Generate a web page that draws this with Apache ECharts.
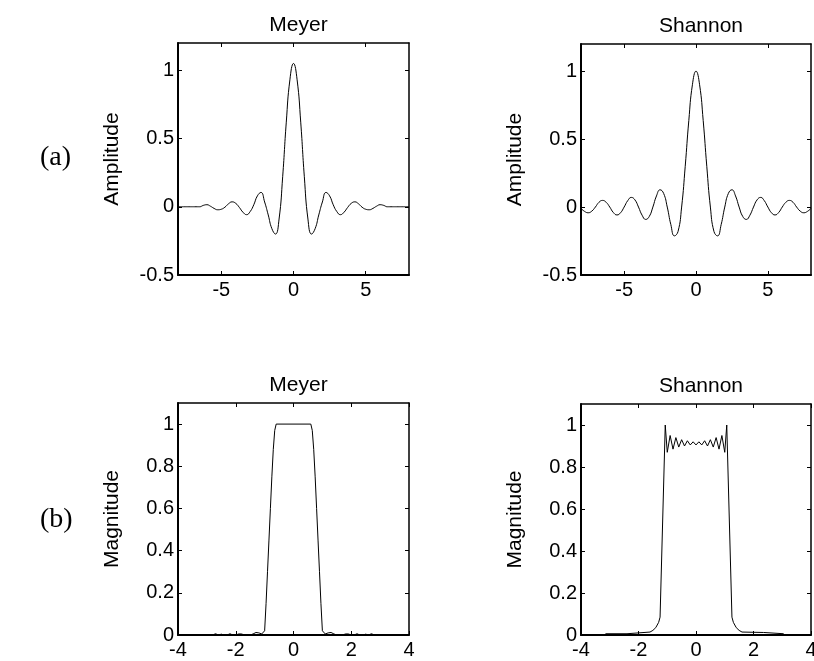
<!DOCTYPE html>
<html>
<head>
<meta charset="utf-8">
<script src="https://cdn.jsdelivr.net/npm/echarts@6/dist/echarts.min.js"></script>
<style>
html, body { margin: 0; padding: 0; background: #fff; }
#chart { width: 814px; height: 661px; }
</style>
</head>
<body>
<div id="chart"></div>
<script>
// time axis samples, -8 .. 8
const timeX = [-8, -7.75, -7.5, -7.25, -7, -6.75, -6.5, -6.25, -6, -5.75, -5.5, -5.25, -5, -4.75, -4.5, -4.25,
  -4, -3.75, -3.5, -3.25, -3, -2.75, -2.5, -2.25, -2, -1.75, -1.5, -1.25, -1, -0.75, -0.5, -0.25,
  0, 0.25, 0.5, 0.75, 1, 1.25, 1.5, 1.75, 2, 2.25, 2.5, 2.75, 3, 3.25, 3.5, 3.75,
  4, 4.25, 4.5, 4.75, 5, 5.25, 5.5, 5.75, 6, 6.25, 6.5, 6.75, 7, 7.25, 7.5, 7.75, 8];

const meyerTime = [0, 0, 0, 0, 0, 0, 0, 0.01, 0.015, 0.004, -0.012, -0.022, -0.018, -0.003, 0.022, 0.036,
  0.025, -0.005, -0.04, -0.058, -0.035, 0.015, 0.08, 0.105, 0.035, -0.06, -0.16, -0.2, -0.09, 0.22, 0.62, 0.93,
  1.05, 0.93, 0.62, 0.22, -0.09, -0.2, -0.16, -0.06, 0.035, 0.105, 0.08, 0.015, -0.035, -0.058, -0.04, -0.005,
  0.025, 0.036, 0.022, -0.003, -0.018, -0.022, -0.012, 0.004, 0.015, 0.01, 0, 0, 0, 0, 0, 0, 0];

const shannonTime = [-0.01, -0.032, -0.042, -0.03, 0, 0.035, 0.049, 0.035, 0, -0.04, -0.058, -0.042, 0, 0.047, 0.071, 0.053,
  0, -0.06, -0.091, -0.069, 0, 0.082, 0.127, 0.1, 0, -0.129, -0.212, -0.18, 0, 0.3, 0.637, 0.9,
  1, 0.9, 0.637, 0.3, 0, -0.18, -0.212, -0.129, 0, 0.1, 0.127, 0.082, 0, -0.069, -0.091, -0.06,
  0, 0.053, 0.071, 0.047, 0, -0.042, -0.058, -0.04, 0, 0.035, 0.049, 0.035, 0, -0.03, -0.042, -0.032, -0.01];

// frequency magnitudes
const meyerFreqX = [-2.8, -2.7, -2.6, -2.5, -2.4, -2.3, -2.2, -2.1, -2, -1.9, -1.8, -1.7, -1.6, -1.5, -1.4, -1.3, -1.2, -1.1,
  -1, -0.95, -0.9, -0.85, -0.8, -0.75, -0.7, -0.65, -0.6,
  0.6, 0.65, 0.7, 0.75, 0.8, 0.85, 0.9, 0.95, 1,
  1.1, 1.2, 1.3, 1.4, 1.5, 1.6, 1.7, 1.8, 1.9, 2, 2.1, 2.2, 2.3, 2.4, 2.5, 2.6, 2.7, 2.8];
const meyerFreq = [0, 0.006, 0, 0.004, 0, 0, 0.006, 0, 0, 0.005, 0.005, 0, 0, 0, 0.005, 0.012, 0.01, 0.005,
  0.02, 0.15, 0.3, 0.45, 0.6, 0.75, 0.88, 0.97, 1,
  1, 0.97, 0.88, 0.75, 0.6, 0.45, 0.3, 0.15, 0.02,
  0.005, 0.01, 0.012, 0.005, 0, 0, 0, 0.005, 0.005, 0, 0, 0.006, 0, 0, 0.004, 0, 0.006, 0];

const shannonFreqX = [-3.15, -2.4, -2.35, -1.6, -1.5, -1.4, -1.3, -1.25, -1.07,
  -1, -0.9, -0.8, -0.7, -0.6, -0.5, -0.4, -0.3, -0.2, -0.1, 0, 0.1, 0.2, 0.3, 0.4, 0.5, 0.6, 0.7, 0.8, 0.9, 1,
  1.07, 1.25, 1.3, 1.4, 1.5, 1.6, 2.35, 2.4, 3.05];
const shannonFreq = [0.006, 0.006, 0.012, 0.014, 0.022, 0.035, 0.06, 0.085, 1,
  0.87, 0.95, 0.885, 0.94, 0.895, 0.93, 0.9, 0.925, 0.905, 0.92, 0.905, 0.92, 0.905, 0.925, 0.9, 0.93, 0.895, 0.94, 0.885, 0.95, 0.87,
  1, 0.085, 0.06, 0.035, 0.022, 0.014, 0.012, 0.006, 0.006];

// tick values
const timeTicks = [-5, 0, 5];
const ampTicks = [-0.5, 0, 0.5, 1];
const freqTicks = [-4, -2, 0, 2, 4];
const magTicks = [0, 0.2, 0.4, 0.6, 0.8, 1];

const titles = ['Meyer', 'Shannon', 'Meyer', 'Shannon'];
const yNames = ['Amplitude', 'Amplitude', 'Magnitude', 'Magnitude'];
const rowLabels = ['(a)', '(b)'];

const font = 'Liberation Sans, Arial, Helvetica, sans-serif';
const grids = [
  { left: 178, top: 43, width: 231, height: 232 },
  { left: 581, top: 44, width: 230, height: 231 },
  { left: 178, top: 403, width: 231, height: 232 },
  { left: 581, top: 404, width: 230, height: 231 }
];
const xRange = [[-8, 8], [-8, 8], [-4, 4], [-4, 4]];
const yRange = [[-0.5, 1.2], [-0.5, 1.2], [0, 1.1], [0, 1.1]];
const xTicks = [timeTicks, timeTicks, freqTicks, freqTicks];
const yTicks = [ampTicks, ampTicks, magTicks, magTicks];

function zip(xs, ys) {
  return xs.map((x, i) => [x, ys[i]]);
}

function axis(kind, g, main) {
  const range = kind === 'x' ? xRange[g] : yRange[g];
  const ticks = kind === 'x' ? xTicks[g] : yTicks[g];
  const a = {
    type: 'value',
    gridIndex: g,
    min: range[0],
    max: range[1],
    position: kind === 'x' ? (main ? 'bottom' : 'top') : (main ? 'left' : 'right'),
    splitLine: { show: false },
    axisLine: { show: true, onZero: false, lineStyle: { color: '#000', width: main ? 2 : 1.5 } },
    axisTick: { show: true, inside: true, length: 4, customValues: ticks, lineStyle: { color: '#000', width: 1 } },
    axisLabel: {
      show: main, customValues: ticks, color: '#000', fontFamily: font, fontSize: 20,
      margin: kind === 'x' ? 5 : 4
    }
  };
  if (kind === 'y' && main) {
    a.name = yNames[g];
    a.nameLocation = 'middle';
    a.nameGap = 55;
    a.nameTextStyle = { color: '#000', fontFamily: font, fontSize: 21 };
  }
  return a;
}

const chart = echarts.init(document.getElementById('chart'));

const xAxes = [];
const yAxes = [];
grids.forEach((g, i) => {
  xAxes.push(axis('x', i, true), axis('x', i, false));
  yAxes.push(axis('y', i, true), axis('y', i, false));
});

const seriesData = [
  zip(timeX, meyerTime),
  zip(timeX, shannonTime),
  zip(meyerFreqX, meyerFreq),
  zip(shannonFreqX, shannonFreq)
];

const option = {
  animation: false,
  backgroundColor: '#fff',
  title: titles.map((t, i) => ({
    text: t,
    left: grids[i].left + grids[i].width / 2,
    top: grids[i].top - 33,
    textAlign: 'center',
    textStyle: { color: '#000', fontFamily: font, fontSize: 21, fontWeight: 'normal' }
  })),
  graphic: rowLabels.map((t, i) => ({
    type: 'text',
    left: 40,
    top: i === 0 ? 144 : 506,
    style: { text: t, fill: '#000', font: '28px "Liberation Serif", "Times New Roman", serif' }
  })),
  grid: grids.map(g => Object.assign({ outerBoundsMode: 'none', containLabel: false }, g)),
  xAxis: xAxes,
  yAxis: yAxes,
  series: seriesData.map((d, i) => ({
    type: 'line',
    xAxisIndex: i * 2,
    yAxisIndex: i * 2,
    data: d,
    smooth: i < 2,
    showSymbol: false,
    symbol: 'none',
    lineStyle: { color: '#000', width: 1 }
  }))
};

chart.setOption(option);
</script>
</body>
</html>
